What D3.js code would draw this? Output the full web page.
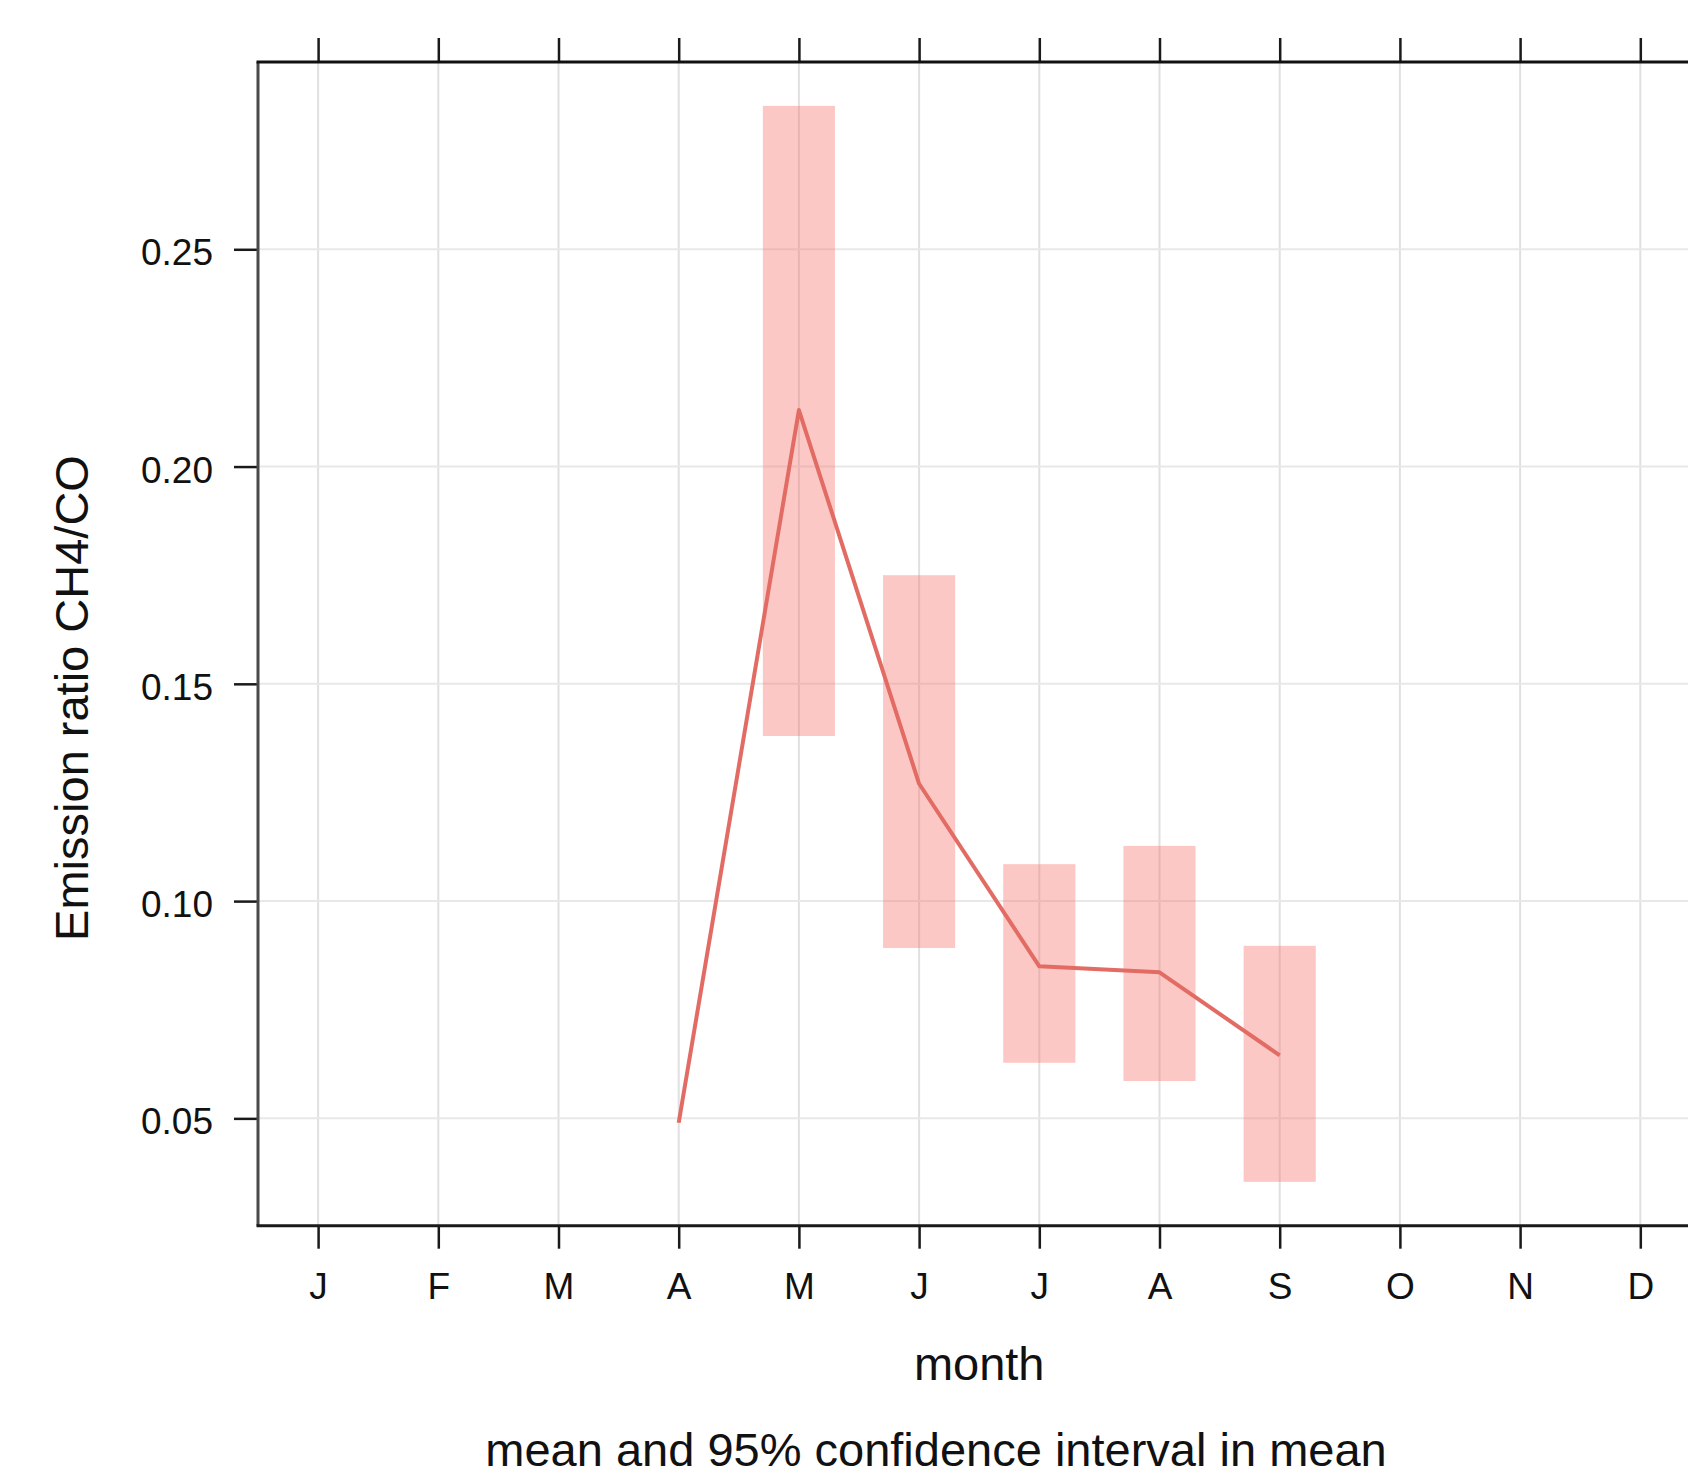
<!DOCTYPE html>
<html>
<head>
<meta charset="utf-8">
<script src="https://cdn.jsdelivr.net/npm/d3@7"></script>
<style>
  body { margin: 0; background: #fff; }
  svg { display: block; font-family: "Liberation Sans", Arial, Helvetica, sans-serif; }
</style>
</head>
<body>
<svg id="chart" width="1688" height="1476"></svg>
<script>
// Données
const monthLabels = ["J", "F", "M", "A", "M", "J", "J", "A", "S", "O", "N", "D"];
const monthNumbers = [1, 2, 3, 4, 5, 6, 7, 8, 9, 10, 11, 12];
const yTicks = [0.05, 0.10, 0.15, 0.20, 0.25];

const obsMonths = [4, 5, 6, 7, 8, 9];
const meanValues = [0.049, 0.213, 0.127, 0.085, 0.0836, 0.0645];
const lowerValues = [null, 0.138, 0.0892, 0.0628, 0.0586, 0.0354];
const upperValues = [null, 0.283, 0.175, 0.1085, 0.1127, 0.0897];

const lineColor = "#e26c64";

var svg = d3.select("#chart");

// Zone du panneau (le bord droit sort de l'image)
var pLeft = 258, pRight = 1700.4, pTop = 62, pBottom = 1225.7;

var x = d3.scaleLinear().domain([0.5, 12.5]).range([pLeft, pRight]);
var y = d3.scaleLinear().domain([0.0253, 0.2931]).range([pBottom, pTop]);

// Grille
svg.append("g")
  .selectAll("line")
  .data(monthNumbers)
  .enter()
  .append("line")
  .attr("x1", d => x(d)).attr("x2", d => x(d))
  .attr("y1", pTop).attr("y2", pBottom)
  .attr("stroke", "#e0e0e0")
  .attr("stroke-width", 2);

svg.append("g")
  .selectAll("line")
  .data(yTicks)
  .enter()
  .append("line")
  .attr("x1", pLeft).attr("x2", pRight)
  .attr("y1", d => y(d)).attr("y2", d => y(d))
  .attr("stroke", "#e8e8e8")
  .attr("stroke-width", 2);

// Intervalles de confiance
var bars = obsMonths.map((m, i) => ({ m: m, lo: lowerValues[i], hi: upperValues[i] }))
  .filter(d => d.lo !== null);
var bw = (x(2) - x(1)) * 0.6;

svg.append("g")
  .selectAll("rect")
  .data(bars)
  .enter()
  .append("rect")
  .attr("x", d => x(d.m) - bw / 2)
  .attr("width", bw)
  .attr("y", d => y(d.hi))
  .attr("height", d => y(d.lo) - y(d.hi))
  .attr("fill", "#f8766d")
  .attr("fill-opacity", 0.4);

// Moyenne
var line = d3.line()
  .x((d, i) => x(obsMonths[i]))
  .y(d => y(d));

svg.append("path")
  .datum(meanValues)
  .attr("d", line)
  .attr("fill", "none")
  .attr("stroke", lineColor)
  .attr("stroke-width", 4)
  .attr("stroke-linejoin", "round");

// Axes
var fontSize = 37;

var xAxis = svg.append("g")
  .attr("transform", `translate(0, ${pBottom})`)
  .call(d3.axisBottom(x).tickValues(monthNumbers)
    .tickFormat((d, i) => monthLabels[i])
    .tickSize(23).tickPadding(24));

var xTop = svg.append("g")
  .attr("transform", `translate(0, ${pTop})`)
  .call(d3.axisTop(x).tickValues(monthNumbers).tickFormat("").tickSize(24));

var yAxis = svg.append("g")
  .attr("transform", `translate(${pLeft}, 0)`)
  .call(d3.axisLeft(y).tickValues(yTicks).tickFormat(d3.format(".2f"))
    .tickSize(24).tickPadding(21));

[xAxis, xTop, yAxis].forEach(function (g) {
  g.select(".domain").remove();
  g.selectAll(".tick line").attr("stroke", "#1a1a1a").attr("stroke-width", 2.5);
  g.selectAll(".tick text")
    .attr("fill", "#111")
    .style("font-size", fontSize + "px")
    .style("font-family", "'Liberation Sans', Arial, sans-serif");
});
yAxis.selectAll(".tick text").attr("dy", "0.42em");

// Cadre
svg.append("line")
  .attr("x1", pLeft).attr("x2", pLeft).attr("y1", pTop).attr("y2", pBottom)
  .attr("stroke", "#4a4a4a").attr("stroke-width", 3);
svg.append("line")
  .attr("x1", pLeft - 1.5).attr("x2", pRight).attr("y1", pTop).attr("y2", pTop)
  .attr("stroke", "#111").attr("stroke-width", 3);
svg.append("line")
  .attr("x1", pLeft - 1.5).attr("x2", pRight).attr("y1", pBottom).attr("y2", pBottom)
  .attr("stroke", "#1a1a1a").attr("stroke-width", 3);
svg.append("line")
  .attr("x1", pRight).attr("x2", pRight).attr("y1", pTop).attr("y2", pBottom)
  .attr("stroke", "#1a1a1a").attr("stroke-width", 3);

// Titres
svg.append("text")
  .attr("x", (pLeft + pRight) / 2)
  .attr("y", 1380)
  .attr("text-anchor", "middle")
  .style("font-size", "47px")
  .attr("fill", "#111")
  .text("month");

svg.append("text")
  .attr("transform", "translate(88, 698) rotate(-90)")
  .attr("text-anchor", "middle")
  .style("font-size", "47px")
  .attr("fill", "#111")
  .text("Emission ratio CH4/CO");

svg.append("text")
  .attr("x", 936)
  .attr("y", 1466)
  .attr("text-anchor", "middle")
  .style("font-size", "47px")
  .attr("fill", "#111")
  .text("mean and 95% confidence interval in mean");
</script>
</body>
</html>
